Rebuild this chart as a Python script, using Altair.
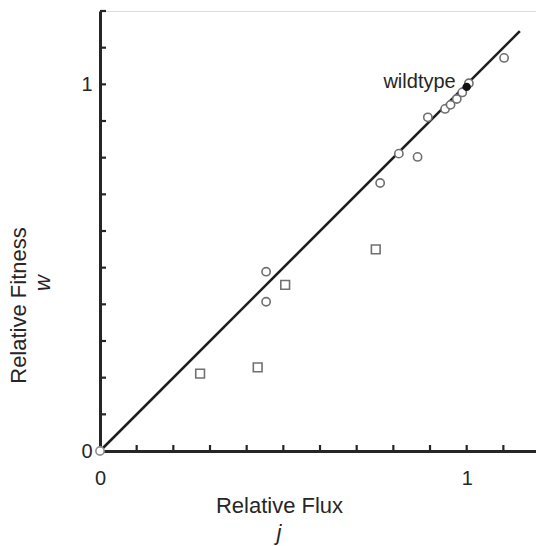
import altair as alt
import pandas as pd

# data
circ_x = [0.453, 0.453, 0.764, 0.815, 0.866, 0.894, 0.941, 0.956, 0.973, 0.988, 1.006, 1.102]
circ_y = [0.489, 0.407, 0.731, 0.811, 0.802, 0.910, 0.933, 0.944, 0.960, 0.978, 1.003, 1.072]
sq_x = [0.273, 0.430, 0.505, 0.752]
sq_y = [0.211, 0.228, 0.453, 0.550]
wild_x = [1.0]
wild_y = [0.993]
origin_x = [0.0]
origin_y = [0.0]
line_x = [0.0, 1.145]
line_y = [0.0, 1.145]
x_ticks = [0.1, 0.2, 0.3, 0.4, 0.5, 0.6, 0.7, 0.8, 0.9, 1.0, 1.1]
y_ticks = [0.1, 0.2, 0.3, 0.4, 0.5, 0.6, 0.7, 0.8, 0.9, 1.0, 1.1, 1.2]
tick_labels = [0, 1]

FONT = "Liberation Sans"
INK = "#262626"
W, H = 436, 440
XDOM = [0, 1.189]
YDOM = [0, 1.2]

xs = alt.Scale(domain=XDOM, nice=False, zero=False)
ys = alt.Scale(domain=YDOM, nice=False, zero=False)

xaxis = alt.Axis(values=tick_labels, format="d", ticks=False, grid=False,
                 domainColor=INK, domainWidth=3, labelFont=FONT, labelFontSize=20,
                 labelColor=INK, labelPadding=17, title="Relative Flux",
                 titleFont=FONT, titleFontSize=22, titleFontWeight="normal", titleColor=INK,
                 titleX=179, titleY=61, titleBaseline="alphabetic", titleAnchor="middle",
                 titleAlign="center", labelFlush=False)
yaxis = alt.Axis(values=tick_labels, format="d", ticks=False, grid=False,
                 domainColor=INK, domainWidth=3, labelFont=FONT, labelFontSize=20,
                 labelColor=INK, labelPadding=8, title="Relative Fitness",
                 titleFont=FONT, titleFontSize=22, titleFontWeight="normal", titleColor=INK,
                 titleX=-75, titleY=294, titleBaseline="alphabetic", titleAngle=270,
                 titleAlign="center", labelFlush=False)

line_df = pd.DataFrame({"x": line_x, "y": line_y})
base_line = alt.Chart(line_df).mark_line(color="#1e1e1e", strokeWidth=2.6).encode(
    x=alt.X("x:Q", scale=xs, axis=xaxis),
    y=alt.Y("y:Q", scale=ys, axis=yaxis),
)

xt = alt.Chart(pd.DataFrame({"v": x_ticks})).mark_rule(color=INK, strokeWidth=2.2).encode(
    x=alt.X("v:Q", scale=xs), y=alt.value(H), y2=alt.value(H - 6))
yt = alt.Chart(pd.DataFrame({"v": y_ticks})).mark_rule(color=INK, strokeWidth=2.2).encode(
    y=alt.Y("v:Q", scale=ys), x=alt.value(0), x2=alt.value(6))

circles = alt.Chart(pd.DataFrame({"x": circ_x, "y": circ_y})).mark_point(
    shape="circle", size=68, filled=False, fill="white", fillOpacity=1,
    stroke="#707070", strokeWidth=1.6, opacity=1).encode(
    x=alt.X("x:Q", scale=xs), y=alt.Y("y:Q", scale=ys))
squares = alt.Chart(pd.DataFrame({"x": sq_x, "y": sq_y})).mark_point(
    shape="square", size=76, filled=False, fill="white", fillOpacity=1,
    stroke="#707070", strokeWidth=1.6, opacity=1).encode(
    x=alt.X("x:Q", scale=xs), y=alt.Y("y:Q", scale=ys))
origin = alt.Chart(pd.DataFrame({"x": origin_x, "y": origin_y})).mark_point(
    shape="circle", size=68, filled=False, fill="white", fillOpacity=1,
    stroke="#909090", strokeWidth=1.6, opacity=1).encode(
    x=alt.X("x:Q", scale=xs), y=alt.Y("y:Q", scale=ys))
wild = alt.Chart(pd.DataFrame({"x": wild_x, "y": wild_y})).mark_point(
    shape="circle", size=70, filled=True, color="#111111", opacity=1).encode(
    x=alt.X("x:Q", scale=xs), y=alt.Y("y:Q", scale=ys))
wild_label = alt.Chart(pd.DataFrame({"x": wild_x, "y": wild_y, "t": ["wildtype"]})).mark_text(
    font=FONT, fontSize=20, color=INK, align="right", baseline="alphabetic", dx=-11, dy=1).encode(
    x=alt.X("x:Q", scale=xs), y=alt.Y("y:Q", scale=ys), text="t:N")

j_lab = alt.Chart(pd.DataFrame({"t": ["j"]})).mark_text(
    font=FONT, fontSize=22, fontStyle="italic", color=INK, align="center", baseline="alphabetic").encode(
    x=alt.value(179), y=alt.value(529), text="t:N")
w_lab = alt.Chart(pd.DataFrame({"t": ["w"]})).mark_text(
    font=FONT, fontSize=22, fontStyle="italic", color=INK, align="center", baseline="alphabetic",
    angle=270).encode(x=alt.value(-50), y=alt.value(272), text="t:N")

chart = alt.layer(base_line, xt, yt, squares, circles, origin, wild, wild_label, j_lab, w_lab).properties(
    width=W, height=H,
    autosize=alt.AutoSizeParams(type="none"),
    padding={"left": 100, "top": 11, "right": 0, "bottom": 95},
).configure_view(stroke=None).configure(background="white")

chart.save("out.html", embed_options={"renderer": "svg", "actions": False})
